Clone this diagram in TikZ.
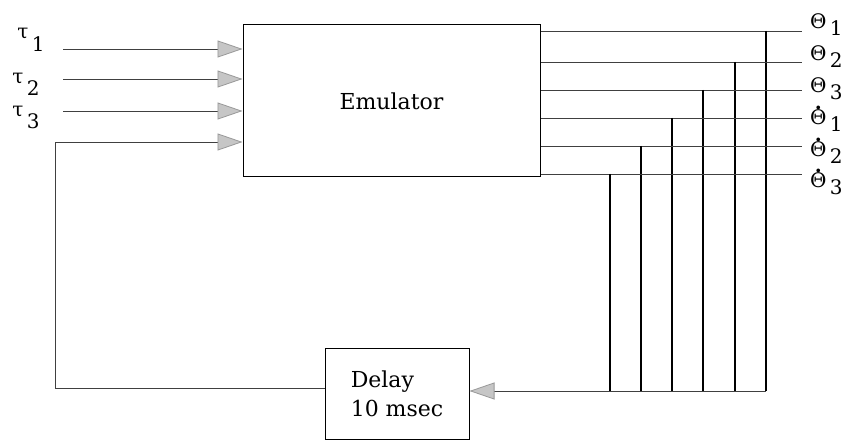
\documentclass[tikz,border=0pt]{standalone}
\usepackage{fontspec}
\setmainfont{DejaVu Serif}
\usepackage{tikz}
\usetikzlibrary{arrows.meta}

\tikzset{
    block/.style={draw, line width=1pt, inner sep=0pt},
    wire/.style={line width=0.8pt, black!75},
    tap/.style={line width=1.3pt, black},
    feed/.style={wire, -{Triangle[length=25pt, width=17pt, fill=gray!45, color=gray!80]}},
    lbl/.style={font=\fontsize{20}{24}\selectfont, inner sep=0pt}
}
\newcommand{\sigsub}[3]{#1\,\raisebox{#3}{#2}}
\newcommand{\dotover}[1]{\ooalign{#1\cr\hidewidth\raisebox{0.78em}{\textbf{.}}\hidewidth\cr}}

\begin{document}
\begin{tikzpicture}[x=1pt, y=-1pt]
    \useasboundingbox (0,0) rectangle (844,441);

    % Blocks
    \node[block, minimum width=297pt, minimum height=152pt,
          font=\fontsize{22}{26}\selectfont] (emu) at (391.5,101) {Emulator};
    \node[block, minimum width=144pt, minimum height=91pt, align=left,
          font=\fontsize{22}{29}\selectfont] (delay) at (397,393.5) {Delay\\ 10 msec};

    % Torque inputs
    \foreach \i/\y in {1/49, 2/79, 3/111} {
        \coordinate (in\i) at (63,\y);
        \draw[feed] (in\i) -- (in\i -| emu.west);
    }
    \node[lbl] (tau1) at (31,40) {\sigsub{τ}{1}{-13pt}};
    \node[lbl] (tau2) at (26,84) {\sigsub{τ}{2}{-12pt}};
    \node[lbl] (tau3) at (26,117) {\sigsub{τ}{3}{-12pt}};

    % Outputs and their taps
    \foreach \i/\y/\x in {1/31/766, 2/62/735, 3/90/703, 4/118/672, 5/146/641, 6/174/610} {
        \coordinate (out\i) at (802,\y);
        \draw[wire] (out\i -| emu.east) -- (out\i);
        \coordinate (tap\i) at (\x,\y);
        \coordinate (bot\i) at (\x,391);
        \draw[tap] (tap\i) -- (bot\i);
    }
    \foreach \i/\t/\s/\y in {1/Θ/1/25, 2/Θ/2/57, 3/Θ/3/89,
                             4/\dotover{Θ}/1/121, 5/\dotover{Θ}/2/153, 6/\dotover{Θ}/3/184}
        \node[lbl, anchor=west] (th\i) at (810,\y) {\sigsub{\t}{\s}{-7pt}};

    % Delay loop
    \draw[feed] (bot1) -- (bot1 -| delay.east);
    \coordinate (fb) at (55,388);
    \coordinate (in4) at (55,142);
    \draw[feed] (fb -| delay.west) -- (fb) -- (in4) -- (in4 -| emu.west);
\end{tikzpicture}
\end{document}
